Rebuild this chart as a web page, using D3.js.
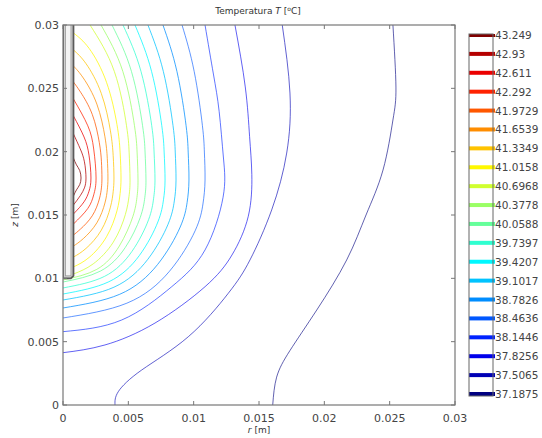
<!DOCTYPE html>
<html>
<head>
<meta charset="utf-8">
<script src="https://cdnjs.cloudflare.com/ajax/libs/d3/7.8.5/d3.min.js"></script>
<style>
  body { margin: 0; background: #fff; }
  text { font-family: "DejaVu Sans", sans-serif; }
</style>
</head>
<body>
<div id="chart"></div>
<script>
// contour levels (colorbar labels), degC
var levels = [37.1875, 37.5065, 37.8256, 38.1446, 38.4636, 38.7826, 39.1017, 39.4207, 39.7397, 40.0588,
              40.3778, 40.6968, 41.0158, 41.3349, 41.6539, 41.9729, 42.292, 42.611, 42.93, 43.249];

var tickVals = [0, 0.005, 0.01, 0.015, 0.02, 0.025, 0.03];

// probe (r, z in m)
var probeR = 0.0008;
var probeBottom = 0.01;

// contour lines, [r, z] in metres, one per level
var line0 = [[0.01605,0],[0.01635,0.0022],[0.01737,0.0043],[0.01942,0.0075],[0.02171,0.01145],[0.02319,0.015],[0.02449,0.01855],[0.02525,0.0225],[0.02548,0.0251],[0.02525,0.03]];
var line1 = [[0.00398,0],[0.00423,0.00105],[0.00602,0.00276],[0.00959,0.00539],[0.01265,0.00882],[0.01431,0.01145],[0.01597,0.0154],[0.01712,0.01989],[0.01737,0.02463],[0.01678,0.03]];
var line2 = [[0,0.00413],[0.00321,0.00474],[0.00704,0.00647],[0.01087,0.00934],[0.01293,0.01184],[0.01418,0.0149],[0.01445,0.0182],[0.01428,0.0212],[0.01395,0.02511],[0.01316,0.03]];
var line3 = [[0,0.00579],[0.00449,0.00671],[0.00832,0.00934],[0.01087,0.01224],[0.01225,0.0164],[0.01228,0.0195],[0.01195,0.02318],[0.01151,0.02613],[0.01087,0.03]];
var line4 = [[0,0.00687],[0.00489,0.00804],[0.00815,0.01056],[0.01011,0.01375],[0.01071,0.01587],[0.01087,0.01776],[0.01082,0.01997],[0.01067,0.02205],[0.01004,0.02633],[0.00911,0.03]];
var line5 = [[0,0.00766],[0.00434,0.00874],[0.00723,0.01108],[0.00897,0.01405],[0.0095,0.016],[0.00964,0.01776],[0.00958,0.01997],[0.00942,0.02205],[0.00872,0.02633],[0.00765,0.03]];
var line6 = [[0,0.00829],[0.0039,0.0093],[0.00649,0.0115],[0.00804,0.01427],[0.00852,0.01611],[0.00865,0.01776],[0.00859,0.01997],[0.00842,0.02205],[0.00768,0.02633],[0.0065,0.03]];
var line7 = [[0,0.00876],[0.00351,0.00973],[0.00585,0.01181],[0.00726,0.01445],[0.00769,0.0162],[0.00781,0.01776],[0.00774,0.01997],[0.00756,0.02205],[0.00678,0.02633],[0.00551,0.03]];
var line8 = [[0,0.00924],[0.00317,0.01015],[0.00528,0.01213],[0.00655,0.01463],[0.00693,0.01628],[0.00704,0.01776],[0.00697,0.01997],[0.00679,0.02205],[0.00597,0.02633],[0.00459,0.03]];
var line9 = [[0,0.00971],[0.00286,0.01057],[0.00477,0.01244],[0.00591,0.0148],[0.00626,0.01637],[0.00635,0.01776],[0.00628,0.01997],[0.00609,0.02205],[0.00524,0.02633],[0.00375,0.03]];
var line10 = [[0,0.00987],[0.00259,0.01071],[0.00431,0.01255],[0.00534,0.01486],[0.00566,0.01639],[0.00574,0.01776],[0.00567,0.01997],[0.00547,0.02205],[0.00458,0.02633],[0.00291,0.03]];
var line11 = [[0.0008,0.01034],[0.00231,0.01114],[0.00385,0.01286],[0.00477,0.01503],[0.00505,0.01647],[0.00513,0.01776],[0.00506,0.01997],[0.00486,0.02205],[0.00393,0.02633],[0.00207,0.03]];
var line12 = [[0.0008,0.0109],[0.002,0.01165],[0.00333,0.01328],[0.00413,0.01533],[0.00437,0.0167],[0.00444,0.01792],[0.00437,0.01996],[0.00413,0.02214],[0.00333,0.02548],[0.002,0.02815],[0.0008,0.02937]];
var line13 = [[0.0008,0.01168],[0.00176,0.01236],[0.00293,0.0138],[0.00363,0.01562],[0.00384,0.01684],[0.0039,0.01792],[0.00384,0.01968],[0.00363,0.02164],[0.00293,0.0246],[0.00176,0.02695],[0.0008,0.02803]];
var line14 = [[0.0008,0.01255],[0.00155,0.01313],[0.00259,0.01438],[0.00321,0.01595],[0.00339,0.01699],[0.00344,0.01792],[0.00339,0.01946],[0.00321,0.02117],[0.00259,0.02376],[0.00155,0.02582],[0.0008,0.02676]];
var line15 = [[0.0008,0.01342],[0.00135,0.0139],[0.00224,0.01494],[0.00278,0.01626],[0.00294,0.01714],[0.00298,0.01792],[0.00294,0.01924],[0.00278,0.02071],[0.00224,0.02294],[0.00135,0.02469],[0.0008,0.0255]];
var line16 = [[0.0008,0.01429],[0.0019,0.01552],[0.00235,0.01659],[0.00253,0.01792],[0.00235,0.02021],[0.0019,0.02204],[0.0008,0.02416]];
var line17 = [[0.0008,0.01508],[0.00161,0.01604],[0.00199,0.01688],[0.00214,0.01792],[0.00199,0.01972],[0.00161,0.02116],[0.0008,0.02282]];
var line18 = [[0.0008,0.01579],[0.00132,0.01652],[0.00164,0.01714],[0.00176,0.01792],[0.00164,0.0192],[0.00132,0.02022],[0.0008,0.0214]];
var line19 = [[0.0008,0.0165],[0.00103,0.01698],[0.00128,0.0174],[0.00138,0.01792],[0.00128,0.01851],[0.00103,0.01896],[0.0008,0.0195]];

var contourLines = [line0, line1, line2, line3, line4, line5, line6, line7, line8, line9,
                    line10, line11, line12, line13, line14, line15, line16, line17, line18, line19];

// matlab style jet colormap
function jet(t) {
  function c(v) { return Math.max(0, Math.min(1, v)); }
  var r = c(1.5 - Math.abs(4 * t - 3));
  var g = c(1.5 - Math.abs(4 * t - 2));
  var b = c(1.5 - Math.abs(4 * t - 1));
  return d3.rgb(r * 255, g * 255, b * 255).toString();
}
function levelColor(i) { return jet(i / (levels.length - 1)); }

var width = 542, height = 438;
var svg = d3.select("#chart").append("svg")
  .attr("width", width)
  .attr("height", height);

var x = d3.scaleLinear().domain([0, 0.03]).range([63, 455]);
var y = d3.scaleLinear().domain([0, 0.03]).range([405, 25]);

svg.append("clipPath").attr("id", "plotclip")
  .append("rect")
  .attr("x", x(0)).attr("y", y(0.03))
  .attr("width", x(0.03) - x(0)).attr("height", y(0) - y(0.03));

// contours
var line = d3.line()
  .x(function(d) { return x(d[0]); })
  .y(function(d) { return y(d[1]); })
  .curve(d3.curveNatural);

svg.append("g")
  .attr("clip-path", "url(#plotclip)")
  .selectAll("path")
  .data(contourLines)
  .enter()
  .append("path")
  .attr("d", line)
  .attr("fill", "none")
  .attr("stroke", function(d, i) { return levelColor(i); })
  .attr("stroke-width", 1)
  .attr("stroke-opacity", function(d, i) { return i < 5 ? 0.62 : 0.75; });

// probe outline (double grey line)
var probe = svg.append("g").attr("clip-path", "url(#plotclip)");
var probePts = [[0, 0.031], [0, probeBottom], [probeR * 0.75, probeBottom], [probeR, probeBottom + 0.0002], [probeR, 0.031]];
probe.append("path")
  .attr("d", d3.line().x(function(d) { return x(d[0]); }).y(function(d) { return y(d[1]); })(probePts))
  .attr("fill", "#cfcfcf")
  .attr("stroke", "#5a5a5a")
  .attr("stroke-width", 1.8);
probe.append("rect")
  .attr("x", x(0) + 2.5)
  .attr("y", y(0.031))
  .attr("width", x(probeR) - x(0) - 5)
  .attr("height", y(probeBottom) - y(0.031) - 2.5)
  .attr("fill", "#f4f4f4")
  .attr("stroke", "#999")
  .attr("stroke-width", 0.8);

// frame + inward ticks
var axisColor = "#777";
svg.append("rect")
  .attr("x", x(0)).attr("y", y(0.03))
  .attr("width", x(0.03) - x(0)).attr("height", y(0) - y(0.03))
  .attr("fill", "none")
  .attr("stroke", axisColor)
  .attr("stroke-width", 1.2);

var ticks = svg.append("g").attr("stroke", axisColor).attr("stroke-width", 1);
tickVals.forEach(function(v) {
  ticks.append("line").attr("x1", x(v)).attr("x2", x(v)).attr("y1", y(0)).attr("y2", y(0) - 4);
  ticks.append("line").attr("x1", x(v)).attr("x2", x(v)).attr("y1", y(0.03)).attr("y2", y(0.03) + 4);
  ticks.append("line").attr("y1", y(v)).attr("y2", y(v)).attr("x1", x(0)).attr("x2", x(0) + 4);
  ticks.append("line").attr("y1", y(v)).attr("y2", y(v)).attr("x1", x(0.03)).attr("x2", x(0.03) - 4);
});

function fmt(v) { return v === 0 ? "0" : String(+v.toFixed(3)); }

svg.append("g").selectAll("text")
  .data(tickVals)
  .enter()
  .append("text")
  .attr("x", function(d) { return x(d); })
  .attr("y", y(0) + 17)
  .attr("text-anchor", "middle")
  .style("font-size", "11px")
  .style("fill", "#444")
  .text(fmt);

svg.append("g").selectAll("text")
  .data(tickVals)
  .enter()
  .append("text")
  .attr("x", x(0) - 4)
  .attr("y", function(d) { return y(d) + 4; })
  .attr("text-anchor", "end")
  .style("font-size", "11px")
  .style("fill", "#444")
  .text(fmt);

// title
var title = svg.append("text")
  .attr("x", 258)
  .attr("y", 14)
  .attr("text-anchor", "middle")
  .style("font-size", "9px")
  .style("fill", "#333");
title.append("tspan").text("Temperatura ");
title.append("tspan").style("font-style", "italic").text("T");
title.append("tspan").text(" [");
title.append("tspan").attr("dy", -3).style("font-size", "6px").text("o");
title.append("tspan").attr("dy", 3).text("C]");

// axis labels
var xl = svg.append("text")
  .attr("x", x(0.015))
  .attr("y", 433)
  .attr("text-anchor", "middle")
  .style("font-size", "9px")
  .style("fill", "#333");
xl.append("tspan").style("font-style", "italic").text("r");
xl.append("tspan").text(" [m]");

var yl = svg.append("text")
  .attr("transform", "translate(18," + y(0.015) + ") rotate(-90)")
  .attr("text-anchor", "middle")
  .style("font-size", "9px")
  .style("fill", "#333");
yl.append("tspan").style("font-style", "italic").text("z");
yl.append("tspan").text(" [m]");

// colorbar
var cbX = 469, cbW = 24, cbTop = 34, cbBottom = 396;
var cy = d3.scaleLinear().domain([levels[0], levels[levels.length - 1]]).range([394, 35]);

svg.append("clipPath").attr("id", "cbclip")
  .append("rect")
  .attr("x", cbX - 1).attr("y", cbTop)
  .attr("width", cbW + 4).attr("height", cbBottom - cbTop);

svg.append("g")
  .attr("clip-path", "url(#cbclip)")
  .selectAll("line")
  .data(levels)
  .enter()
  .append("line")
  .attr("x1", cbX)
  .attr("x2", cbX + cbW + 2)
  .attr("y1", function(d) { return cy(d); })
  .attr("y2", function(d) { return cy(d); })
  .attr("stroke", function(d, i) { return levelColor(i); })
  .attr("stroke-width", 4);

svg.append("rect")
  .attr("x", cbX).attr("y", cbTop)
  .attr("width", cbW).attr("height", cbBottom - cbTop)
  .attr("fill", "none")
  .attr("stroke", "#666")
  .attr("stroke-width", 1);

svg.append("g").selectAll("text")
  .data(levels)
  .enter()
  .append("text")
  .attr("x", cbX + cbW + 2)
  .attr("y", function(d) { return cy(d) + 4; })
  .style("font-size", "10.5px")
  .style("fill", "#444")
  .text(function(d) { return String(d); });
</script>
</body>
</html>
